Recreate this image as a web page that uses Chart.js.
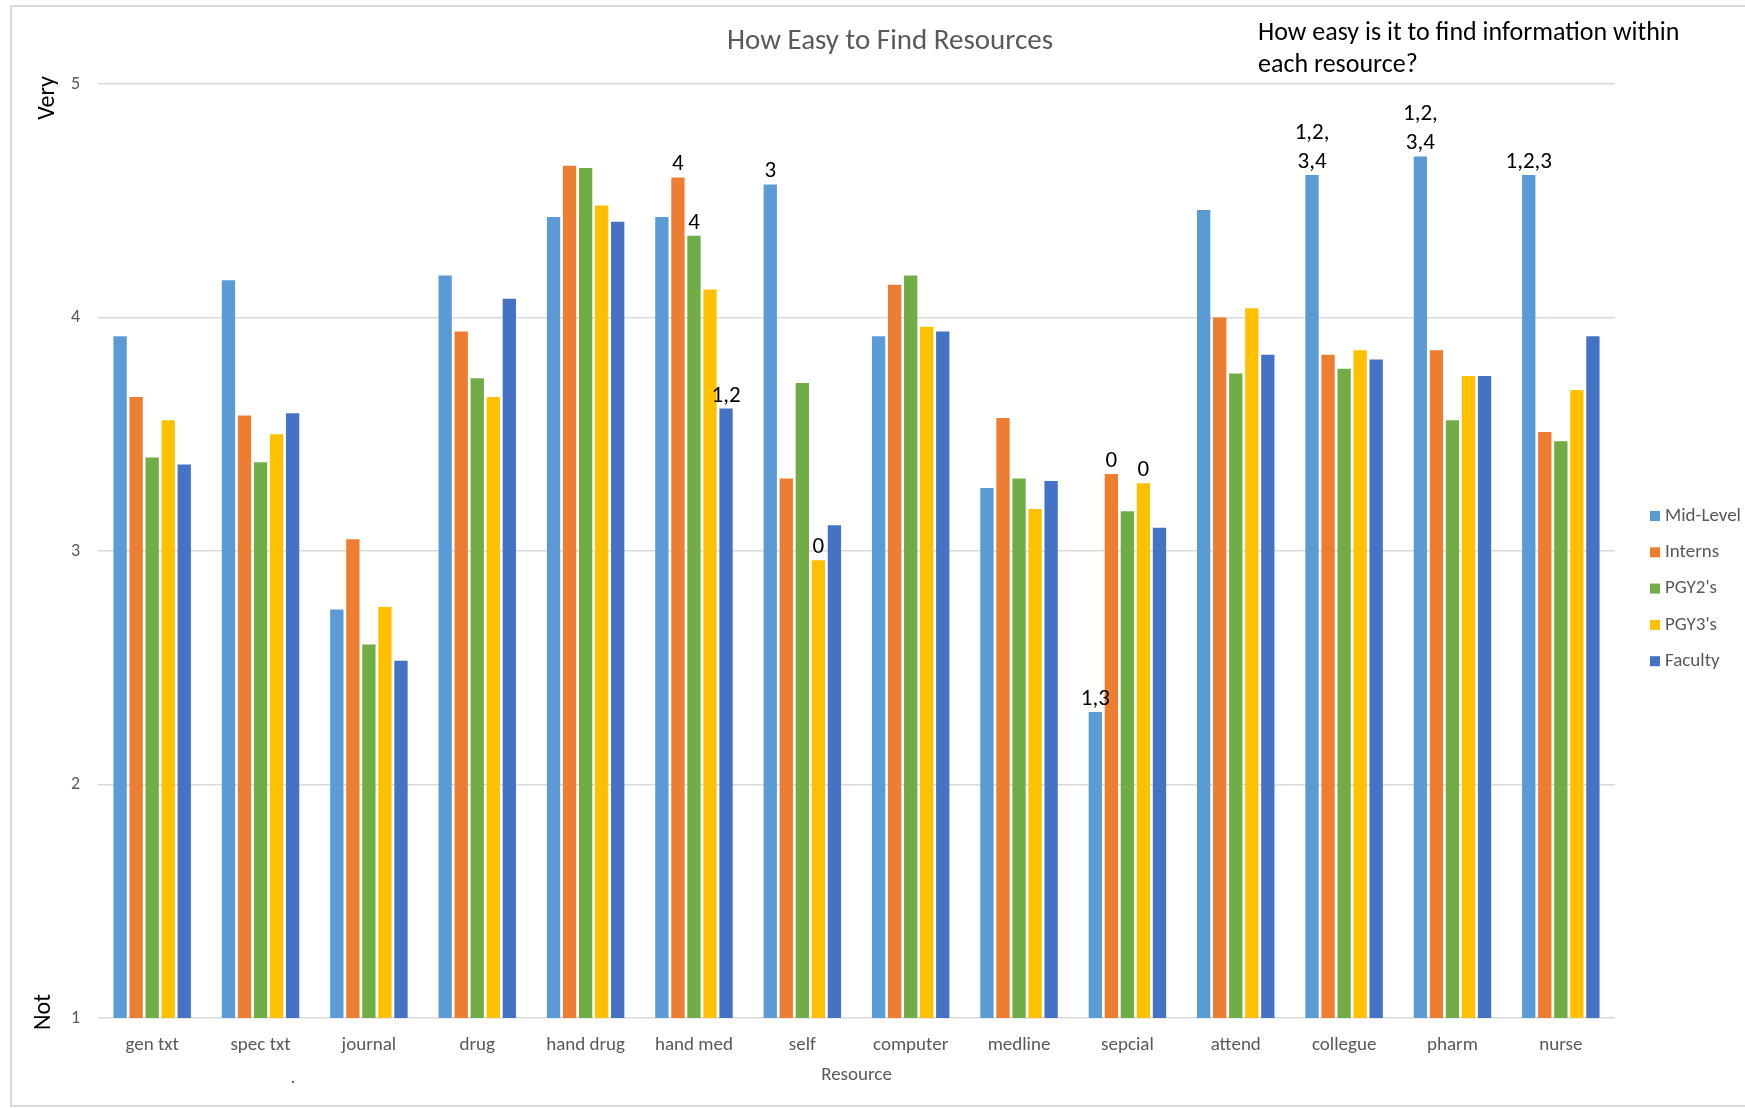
<!DOCTYPE html>
<html>
<head>
<meta charset="utf-8">
<script src="https://cdn.jsdelivr.net/npm/chart.js@4"></script>
<style>
html, body { margin: 0; padding: 0; background: #fff; }
#caixa { position: relative; width: 1745px; height: 1108px; }
</style>
</head>
<body>
<div id="caixa"><canvas id="grafico"></canvas></div>
<script>
// dados do grafico
var categorias = ['gen txt', 'spec txt', 'journal', 'drug', 'hand drug', 'hand med', 'self',
    'computer', 'medline', 'sepcial', 'attend', 'collegue', 'pharm', 'nurse'];
var series = ['Mid-Level', 'Interns', "PGY2's", "PGY3's", 'Faculty'];
var midLevel = [3.92, 4.16, 2.75, 4.18, 4.43, 4.43, 4.57, 3.92, 3.27, 2.31, 4.46, 4.61, 4.69, 4.61];
var interns  = [3.66, 3.58, 3.05, 3.94, 4.65, 4.60, 3.31, 4.14, 3.57, 3.33, 4.00, 3.84, 3.86, 3.51];
var pgy2     = [3.40, 3.38, 2.60, 3.74, 4.64, 4.35, 3.72, 4.18, 3.31, 3.17, 3.76, 3.78, 3.56, 3.47];
var pgy3     = [3.56, 3.50, 2.76, 3.66, 4.48, 4.12, 2.96, 3.96, 3.18, 3.29, 4.04, 3.86, 3.75, 3.69];
var faculty  = [3.37, 3.59, 2.53, 4.08, 4.41, 3.61, 3.11, 3.94, 3.30, 3.10, 3.84, 3.82, 3.75, 3.92];
var yTicks = [1, 2, 3, 4, 5];

// marcas de significancia: [categoria, serie, linhas]
var marcas = [
    ['hand med', 1, ['4']],
    ['hand med', 2, ['4']],
    ['hand med', 4, ['1,2']],
    ['self', 0, ['3']],
    ['self', 3, ['0']],
    ['sepcial', 0, ['1,3']],
    ['sepcial', 1, ['0']],
    ['sepcial', 3, ['0']],
    ['collegue', 0, ['1,2,', '3,4']],
    ['pharm', 0, ['1,2,', '3,4']],
    ['nurse', 0, ['1,2,3']]
];

var cores = ['#5B9BD5', '#ED7D31', '#70AD47', '#FFC000', '#4472C4'];
var valores = [midLevel, interns, pgy2, pgy3, faculty];
var fonte = "Carlito, Lato, 'Open Sans', sans-serif";
var cinza = '#595959';

var datasets = series.map(function (nome, i) {
    return {
        label: nome,
        data: valores[i],
        backgroundColor: cores[i],
        categoryPercentage: 0.74,
        barPercentage: 0.83
    };
});

// textos extras, legenda e moldura
var extras = {
    id: 'extras',
    beforeDraw: function (chart) {
        var c = chart.ctx;
        c.save();
        c.strokeStyle = '#D9D9D9';
        c.lineWidth = 2;
        c.strokeRect(11, 6, 1800, 1100);
        c.restore();
    },
    afterDatasetsDraw: function (chart) {
        var c = chart.ctx;
        c.save();
        // rotulos sobre as barras
        c.fillStyle = '#000';
        c.font = '23px ' + fonte;
        c.textAlign = 'center';
        c.textBaseline = 'alphabetic';
        marcas.forEach(function (m) {
            var idx = categorias.indexOf(m[0]);
            var barra = chart.getDatasetMeta(m[1]).data[idx];
            var linhas = m[2];
            for (var k = 0; k < linhas.length; k++) {
                var y = barra.y - 7 - (linhas.length - 1 - k) * 29;
                c.fillText(linhas[k], barra.x, y);
            }
        });

        // titulo
        c.fillStyle = cinza;
        c.font = '29px ' + fonte;
        c.textBaseline = 'middle';
        c.fillText('How Easy to Find Resources', 890, 42);

        // pergunta no canto
        c.fillStyle = '#000';
        c.font = '26px ' + fonte;
        c.textAlign = 'left';
        c.fillText('How easy is it to find information within', 1258, 33);
        c.fillText('each resource?', 1258, 65);

        // eixo y: Very / Not
        c.font = '24px ' + fonte;
        c.textAlign = 'center';
        c.save();
        c.translate(48, 98);
        c.rotate(-Math.PI / 2);
        c.fillText('Very', 0, 0);
        c.restore();
        c.save();
        c.translate(44, 1012);
        c.rotate(-Math.PI / 2);
        c.fillText('Not', 0, 0);
        c.restore();

        // ponto solto
        c.fillStyle = cinza;
        c.font = '18px ' + fonte;
        c.fillText('.', 293, 1078);

        // legenda
        c.textAlign = 'left';
        c.font = '19px ' + fonte;
        chart.data.datasets.forEach(function (ds, i) {
            var y = 516 + i * 36.3;
            c.fillStyle = ds.backgroundColor;
            c.fillRect(1650, y - 5, 10, 10);
            c.fillStyle = cinza;
            c.fillText(ds.label, 1665, y);
        });
        c.restore();
    }
};

var ctx = document.querySelector('#grafico').getContext('2d');
var grafico = new Chart(ctx, {
    type: 'bar',
    data: { labels: categorias, datasets: datasets },
    options: {
        responsive: true,
        maintainAspectRatio: false,
        animation: false,
        layout: { padding: { left: 10, right: 130, top: 84, bottom: 20 } },
        plugins: {
            legend: { display: false },
            tooltip: { enabled: false }
        },
        scales: {
            x: {
                grid: { display: false },
                border: { display: false },
                ticks: { color: cinza, font: { family: fonte, size: 19 }, padding: 8 },
                title: {
                    display: true, text: 'Resource', color: cinza,
                    font: { family: fonte, size: 19 }, padding: { top: 4, bottom: 1 }
                },
                afterFit: function (s) { s.height = 70; }
            },
            y: {
                min: 1,
                max: 5,
                afterBuildTicks: function (s) {
                    s.ticks = yTicks.map(function (v) { return { value: v }; });
                },
                grid: { color: '#D9D9D9', lineWidth: 1.5, drawTicks: false },
                border: { display: false },
                ticks: { color: cinza, font: { family: fonte, size: 18 }, padding: 18 },
                afterFit: function (s) { s.width = 88; }
            }
        }
    },
    plugins: [extras]
});
</script>
</body>
</html>
